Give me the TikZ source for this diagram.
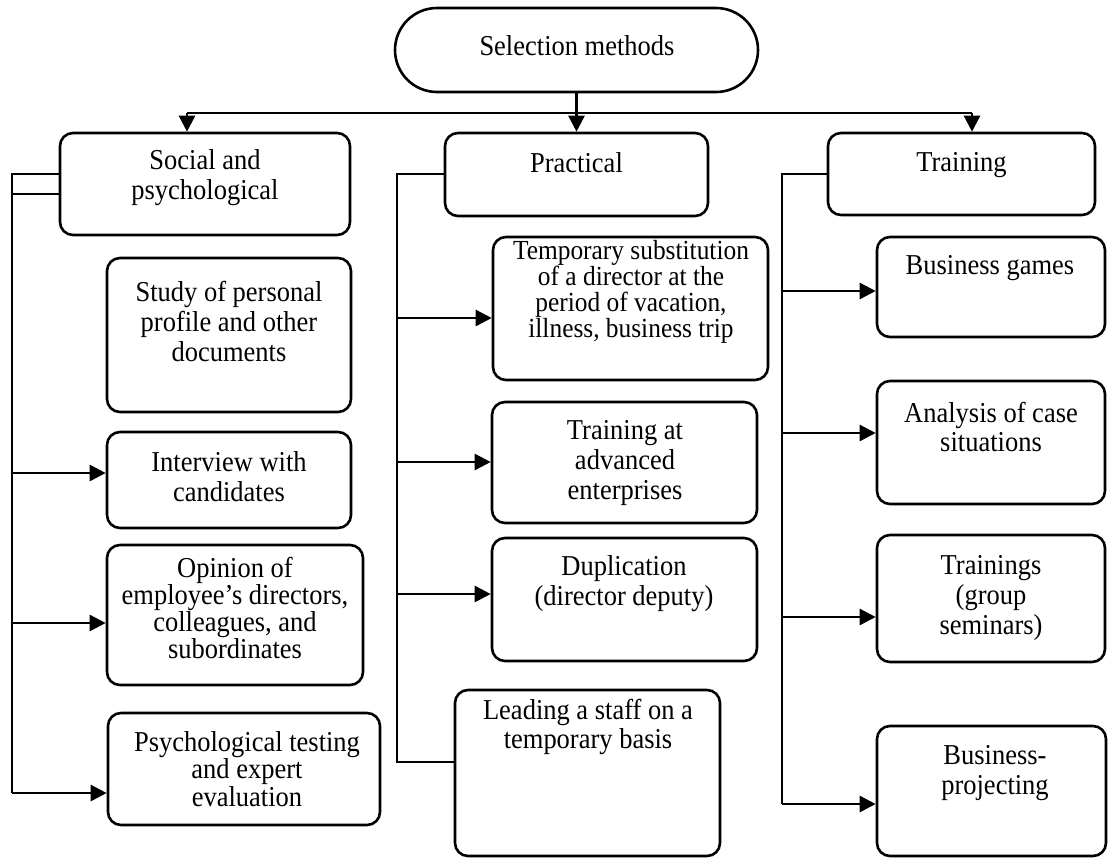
\documentclass[tikz,border=0pt]{standalone}
\usepackage{fontspec}
\setmainfont[FakeStretch=0.92]{Liberation Serif}
\usetikzlibrary{arrows.meta}

\begin{document}
\begin{tikzpicture}[x=1pt, y=-1pt, line width=2.6pt, line join=miter,
  blk/.style={draw, rounded corners=13pt, inner sep=0pt},
  lbl/.style={align=center, inner sep=0pt, font=\fontsize{28.8}{30}\selectfont},
  arr/.style={-{Triangle[length=16pt,width=16pt]}}]

  %% ════ 顶部节点 ════
  \node[blk, rounded corners=42pt, minimum width=363pt, minimum height=84pt] (sel) at (576.5,50) {};   % box(395,8,363,84)
  \node[lbl] (selL) at (577,46) {Selection methods};

  %% ════ 第一层（三类）════
  \node[blk, minimum width=290pt, minimum height=102pt] (soc) at (205,184) {};     % box(60,133,290,102)
  \node[lbl] (socL) at (205,178) {Social and\\psychological};
  \node[blk, minimum width=263pt, minimum height=83pt] (prac) at (576.5,174.5) {}; % box(445,133,263,83)
  \node[lbl] (pracL) at (576.5,163) {Practical};
  \node[blk, minimum width=267pt, minimum height=82pt] (trn) at (961.5,174) {};    % box(828,133,267,82)
  \node[lbl] (trnL) at (961.5,165) {Training};

  %% ════ 左列 ════
  \node[blk, minimum width=244pt, minimum height=154pt] (study) at (229,335) {};   % box(107,258,244,154)
  \node[lbl] (studyL) at (229,321) {Study of personal\\profile and other\\documents};
  \node[blk, minimum width=244pt, minimum height=96pt] (intv) at (229,480) {};     % box(107,432,244,96)
  \node[lbl] (intvL) at (229,477) {Interview with\\candidates};
  \node[blk, minimum width=256pt, minimum height=140pt] (opin) at (235,615) {};    % box(107,545,256,140)
  \node[lbl, font=\fontsize{28.8}{27.3}\selectfont] (opinL) at (235,608) {Opinion of\\employee’s directors,\\colleagues, and\\subordinates};
  \node[blk, minimum width=272pt, minimum height=112pt] (psy) at (244,769) {};     % box(108,713,272,112)
  \node[lbl, font=\fontsize{28.8}{25.8}\selectfont] (psyL) at (247,769) {Psychological testing\\and expert\\evaluation};

  %% ════ 中列 ════
  \node[blk, minimum width=275pt, minimum height=143pt] (temp) at (630.5,308.5) {}; % box(493,237,275,143)
  \node[lbl, font=\fontsize{27.6}{26}\selectfont] (tempL) at (631,292) {Temporary substitution\\of a director at the\\period of vacation,\\illness, business trip};
  \node[blk, minimum width=265pt, minimum height=121pt] (adv) at (624.5,462.5) {};  % box(492,402,265,121)
  \node[lbl] (advL) at (625,463) {Training at\\advanced\\enterprises};
  \node[blk, minimum width=265pt, minimum height=123pt] (dup) at (624.5,599.5) {};  % box(492,538,265,123)
  \node[lbl] (dupL) at (624,584) {Duplication\\(director deputy)};
  \node[blk, minimum width=265pt, minimum height=166pt] (lead) at (587.5,773) {};   % box(455,690,265,166)
  \node[lbl, font=\fontsize{28.8}{28.5}\selectfont] (leadL) at (588,727) {Leading a staff on a\\temporary basis};

  %% ════ 右列 ════
  \node[blk, minimum width=228pt, minimum height=100pt] (games) at (991,287) {};    % box(877,237,228,100)
  \node[lbl] (gamesL) at (990,268) {Business games};
  \node[blk, minimum width=228pt, minimum height=123pt] (case) at (991,442.5) {};   % box(877,381,228,123)
  \node[lbl, font=\fontsize{28.8}{28.5}\selectfont] (caseL) at (991,427) {Analysis of case\\situations};
  \node[blk, minimum width=228pt, minimum height=127pt] (trgs) at (991,598.5) {};   % box(877,535,228,127)
  \node[lbl] (trgsL) at (991,598) {Trainings\\(group\\seminars)};
  \node[blk, minimum width=229pt, minimum height=130pt] (proj) at (991.5,791) {};   % box(877,726,229,130)
  \node[lbl] (projL) at (995,773) {Business-\\projecting};

  %% ════ 总线与竖线的拐点 ════
  \coordinate (busL) at (187,113);
  \coordinate (busR) at (972,113);
  \coordinate (railS) at (12,174);
  \coordinate (railS2) at (12,194);
  \coordinate (s1) at (12,473);
  \coordinate (s2) at (12,623);
  \coordinate (s3) at (12,793);
  \coordinate (railP) at (397,174);
  \coordinate (p1) at (397,318);
  \coordinate (p2) at (397,462);
  \coordinate (p3) at (397,594);
  \coordinate (p4) at (397,762);
  \coordinate (railT) at (782,174);
  \coordinate (t1) at (782,291);
  \coordinate (t2) at (782,433);
  \coordinate (t3) at (782,617);
  \coordinate (t4) at (782,804);

  %% ════ 连线 ════
  \draw (busL) -- (busR);
  \draw[arr] (sel.south) -- (prac.north);
  \draw[arr] (busL) -- (busL |- soc.north);
  \draw[arr] (busR) -- (busR |- trn.north);

  \draw (soc.west |- railS) -- (railS) -- (s3);
  \draw (railS2) -- (railS2 -| soc.west);
  \draw[arr] (s1) -- (s1 -| intv.west);
  \draw[arr] (s2) -- (s2 -| opin.west);
  \draw[arr] (s3) -- (s3 -| psy.west);

  \draw (prac.west |- railP) -- (railP) -- (p4) -- (p4 -| lead.west);
  \draw[arr] (p1) -- (p1 -| temp.west);
  \draw[arr] (p2) -- (p2 -| adv.west);
  \draw[arr] (p3) -- (p3 -| dup.west);

  \draw (trn.west |- railT) -- (railT) -- (t4);
  \draw[arr] (t1) -- (t1 -| games.west);
  \draw[arr] (t2) -- (t2 -| case.west);
  \draw[arr] (t3) -- (t3 -| trgs.west);
  \draw[arr] (t4) -- (t4 -| proj.west);

  % 钉死画布
  \pgfresetboundingbox
  \path[use as bounding box] (0,0) rectangle (1108,857);
\end{tikzpicture}
\end{document}
